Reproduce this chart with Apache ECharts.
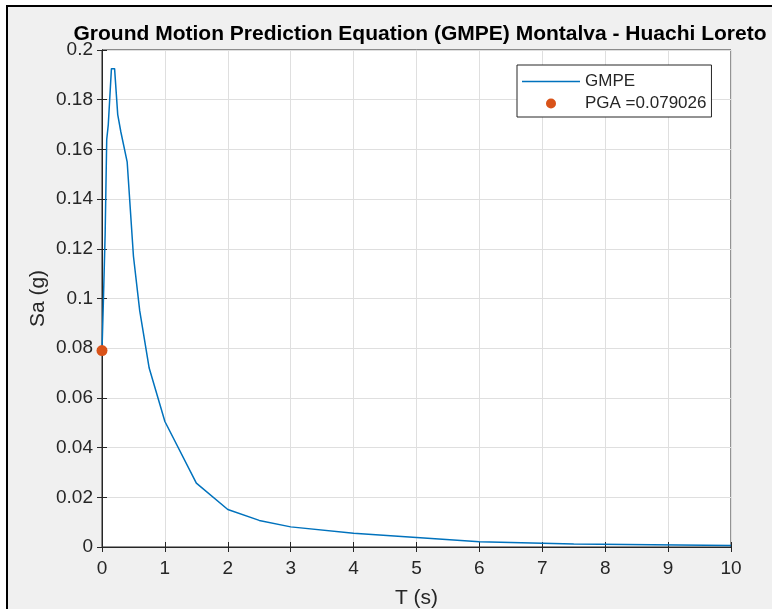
<!DOCTYPE html>
<html>
<head>
<meta charset="utf-8">
<script src="https://cdn.jsdelivr.net/npm/echarts@6/dist/echarts.min.js"></script>
<style>
html,body{margin:0;padding:0;background:#fff;}
#chart{width:772px;height:609px;}
</style>
</head>
<body>
<div id="chart"></div>
<script>
// Periods T (s) and spectral acceleration Sa (g)
var periods = [0, 0.02, 0.05, 0.075, 0.1, 0.15, 0.2, 0.25, 0.3, 0.4, 0.5, 0.6, 0.75, 1, 1.5, 2, 2.5, 3, 4, 5, 6, 7.5, 10];
var saValues = [0.0790, 0.097, 0.126, 0.164, 0.170, 0.1925, 0.1925, 0.174, 0.167, 0.155, 0.117, 0.095, 0.072, 0.0505, 0.0257, 0.0151, 0.0107, 0.0081, 0.0055, 0.0038, 0.0021, 0.0012, 0.0006];
var pgaPoint = [0, 0.079026];
var xTicks = [0, 1, 2, 3, 4, 5, 6, 7, 8, 9, 10];
var yTicks = [0, 0.02, 0.04, 0.06, 0.08, 0.1, 0.12, 0.14, 0.16, 0.18, 0.2];

var titleText = 'Ground Motion Prediction Equation (GMPE) Montalva - Huachi Loreto';
var lineName = 'GMPE';
var pgaName = 'PGA =0.079026';

var font = 'Arial, "Liberation Sans", Helvetica, sans-serif';
var axisColor = '#262626';
var gridColor = '#dfdfdf';

var lineData = periods.map(function (t, i) { return [t, saValues[i]]; });

var chart = echarts.init(document.getElementById('chart'), null, {renderer: 'canvas'});
var option = {
  backgroundColor: '#f0f0f0',
  animation: false,
  title: {
    text: titleText,
    left: 415, top: 19, textAlign: 'center',
    textStyle: {fontFamily: font, fontSize: 21, fontWeight: 'bold', color: '#000'}
  },
  grid: {
    left: 102, right: 41, top: 50, bottom: 62,
    containLabel: false, outerBoundsMode: 'none',
    show: true, backgroundColor: '#ffffff', borderColor: axisColor, borderWidth: 1
  },
  legend: {
    orient: 'vertical', left: 517, top: 65,
    padding: [8, 5, 5, 5], itemGap: 5,
    itemWidth: 58, itemHeight: 10,
    backgroundColor: '#ffffff', borderColor: axisColor, borderWidth: 1, borderRadius: 0,
    textStyle: {fontFamily: font, fontSize: 17, color: axisColor, lineHeight: 17},
    data: [
      {name: lineName, icon: 'path://M0,0 L58,0 L58,1.5 L0,1.5 Z', itemStyle: {color: '#0072BD'}},
      {name: pgaName, icon: 'circle', itemStyle: {color: '#D95319', opacity: 1}}
    ]
  },
  xAxis: [{
    type: 'value', min: xTicks[0], max: xTicks[xTicks.length - 1], interval: 1,
    name: 'T (s)', nameLocation: 'middle', nameGap: 41, nameMoveOverlap: false,
    nameTextStyle: {fontFamily: font, fontSize: 21, color: axisColor},
    axisLine: {show: true, lineStyle: {color: axisColor, width: 1}},
    axisTick: {show: true, inside: true, length: 5, lineStyle: {color: axisColor}},
    axisLabel: {margin: 12, fontFamily: font, fontSize: 19, color: axisColor},
    splitLine: {show: true, lineStyle: {color: gridColor, width: 1}}
  }, {
    type: 'value', position: 'top', min: xTicks[0], max: xTicks[xTicks.length - 1], interval: 1,
    axisLine: {show: true, lineStyle: {color: axisColor, width: 1}},
    axisTick: {show: true, inside: true, length: 5, lineStyle: {color: axisColor}},
    axisLabel: {show: false}, splitLine: {show: false}
  }],
  yAxis: [{
    type: 'value', min: yTicks[0], max: yTicks[yTicks.length - 1], interval: 0.02,
    name: 'Sa (g)', nameLocation: 'middle', nameGap: 53, nameMoveOverlap: false,
    nameTextStyle: {fontFamily: font, fontSize: 21, color: axisColor},
    axisLine: {show: true, lineStyle: {color: axisColor, width: 1}},
    axisTick: {show: true, inside: true, length: 5, lineStyle: {color: axisColor}},
    axisLabel: {margin: 9, fontFamily: font, fontSize: 19, color: axisColor,
      formatter: function (v) { return String(Math.round(v * 100) / 100); }},
    splitLine: {show: true, lineStyle: {color: gridColor, width: 1}}
  }, {
    type: 'value', position: 'right', min: yTicks[0], max: yTicks[yTicks.length - 1], interval: 0.02,
    axisLine: {show: true, lineStyle: {color: axisColor, width: 1}},
    axisTick: {show: true, inside: true, length: 5, lineStyle: {color: axisColor}},
    axisLabel: {show: false}, splitLine: {show: false}
  }],
  series: [{
    name: lineName, type: 'line', data: lineData, symbol: 'none',
    lineStyle: {color: '#0072BD', width: 1.5}, itemStyle: {color: '#0072BD'},
    clip: true, z: 3
  }, {
    name: pgaName, type: 'scatter', data: [pgaPoint], symbol: 'circle', symbolSize: 11,
    itemStyle: {color: '#D95319', opacity: 1}, z: 4
  }],
  graphic: [
    {type: 'rect', shape: {x: 0, y: 0, width: 772, height: 5}, style: {fill: '#ffffff'}, silent: true},
    {type: 'rect', shape: {x: 0, y: 0, width: 6, height: 609}, style: {fill: '#ffffff'}, silent: true},
    {type: 'rect', shape: {x: 6, y: 5, width: 766, height: 2}, style: {fill: '#000000'}, silent: true},
    {type: 'rect', shape: {x: 6, y: 5, width: 2, height: 604}, style: {fill: '#000000'}, silent: true}
  ]
};
chart.setOption(option);
</script>
</body>
</html>
